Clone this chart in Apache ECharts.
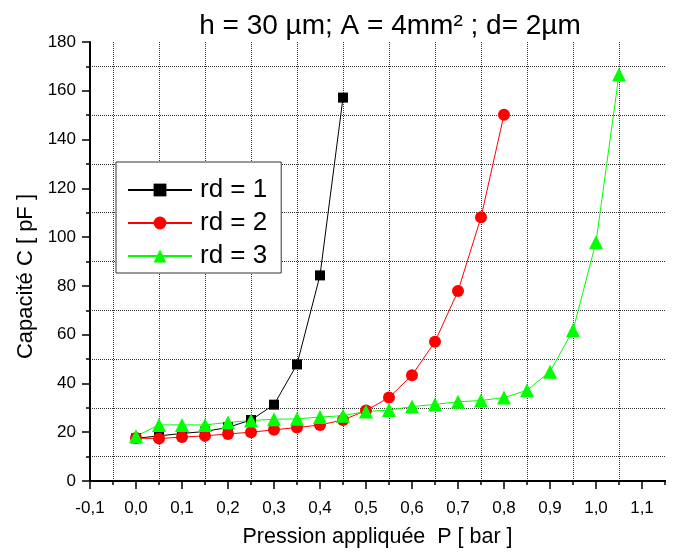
<!DOCTYPE html>
<html>
<head>
<meta charset="utf-8">
<script src="https://cdn.jsdelivr.net/npm/echarts@6/dist/echarts.min.js"></script>
<style>
html,body{margin:0;padding:0;background:#fff;}
#chart{width:679px;height:553px;}
</style>
</head>
<body>
<div id="chart"></div>
<script>
var titleText = 'h = 30 µm; A = 4mm² ; d= 2µm';
var xName = 'Pression appliquée  P [ bar ]';
var yName = 'Capacité C [ pF ]';
var seriesNames = ['rd = 1', 'rd = 2', 'rd = 3'];

var pressure = [0.00, 0.05, 0.10, 0.15, 0.20, 0.25, 0.30, 0.35, 0.40, 0.45, 0.50,
                0.55, 0.60, 0.65, 0.70, 0.75, 0.80, 0.85, 0.90, 0.95, 1.00, 1.05];
var rd1 = [17.5, 18.5, 19.5, 20.3, 22.0, 25.0, 31.3, 47.8, 84.3, 157.2];
var rd2 = [17.6, 17.4, 18.0, 18.5, 19.3, 20.0, 21.0, 21.9, 23.0, 25.0, 28.9,
           34.2, 43.4, 57.1, 77.9, 108.1, 150.2];
var rd3 = [18.3, 23.0, 23.0, 23.0, 24.0, 24.8, 25.3, 25.5, 26.2, 26.8, 28.5,
           29.1, 30.5, 31.4, 32.5, 33.0, 34.2, 37.2, 44.8, 61.8, 97.9, 166.7];

var xMajorTicks = [-0.1, 0.0, 0.1, 0.2, 0.3, 0.4, 0.5, 0.6, 0.7, 0.8, 0.9, 1.0, 1.1];

function pairs(ys) {
  return ys.map(function (y, i) { return [pressure[i], y]; });
}

var FONT = '"Liberation Sans", Arial, sans-serif';
var chart = echarts.init(document.getElementById('chart'));
chart.setOption({
  animation: false,
  backgroundColor: '#ffffff',
  title: {
    text: titleText,
    left: 385, textAlign: 'center', top: 7,
    textStyle: { fontFamily: FONT, fontSize: 28, fontWeight: 'normal', color: '#000' }
  },
  legend: {
    orient: 'vertical',
    left: 116, top: 162,
    padding: [15, 14, 4, 11],
    itemGap: 7,
    itemWidth: 64, itemHeight: 16,
    backgroundColor: '#fff',
    borderColor: '#333', borderWidth: 1,
    textStyle: { fontFamily: FONT, fontSize: 26, color: '#000', padding: [0, 0, 0, 3] },
    data: seriesNames
  },
  grid: { left: 90, right: 14, top: 42, bottom: 70, containLabel: false },
  xAxis: [{
    type: 'value', min: -0.1, max: 1.15, interval: 0.05, position: 'bottom',
    axisLine: { show: true, onZero: false, lineStyle: { color: '#000', width: 2 } },
    axisTick: { show: true, length: 4, lineStyle: { color: '#000', width: 1.5 } },
    axisLabel: { show: false },
    splitLine: { show: true, showMaxLine: false,
      lineStyle: { type: 'dotted', width: 1, color: ['rgba(0,0,0,0)', '#333'] } }
  }, {
    type: 'value', min: -0.1, max: 1.15, interval: 0.1, position: 'bottom',
    axisLine: { show: true, onZero: false, lineStyle: { color: '#000', width: 2 } },
    axisTick: { show: true, length: 8, customValues: xMajorTicks, lineStyle: { color: '#000', width: 1.5 } },
    axisLabel: { show: true, customValues: xMajorTicks, margin: 19, fontFamily: FONT, fontSize: 17, color: '#000',
      formatter: function (v) { return v.toFixed(1).replace('.', ','); } },
    splitLine: { show: false },
    name: xName, nameLocation: 'middle', nameGap: 45,
    nameTextStyle: { fontFamily: FONT, fontSize: 21.5, color: '#000' }
  }],
  yAxis: {
    type: 'value', min: 0, max: 180, interval: 20,
    axisLine: { show: true, onZero: false, lineStyle: { color: '#000', width: 2 } },
    axisTick: { show: true, length: 8, lineStyle: { color: '#000', width: 1.5 } },
    minorTick: { show: true, splitNumber: 2, length: 4, lineStyle: { color: '#000', width: 1.5 } },
    axisLabel: { margin: 14, fontFamily: FONT, fontSize: 17, color: '#000' },
    splitLine: { show: false },
    minorSplitLine: { show: true, lineStyle: { type: 'dotted', width: 1, color: '#333' } },
    name: yName, nameLocation: 'middle', nameGap: 50, nameRotate: 90,
    nameTextStyle: { fontFamily: FONT, fontSize: 22, color: '#000', padding: [0, 30, 0, 0] }
  },
  series: [{
    name: seriesNames[0], type: 'line', xAxisIndex: 0,
    data: pairs(rd1), symbol: 'rect', symbolSize: 10,
    itemStyle: { color: '#000000' }, lineStyle: { color: '#000000', width: 1 }
  }, {
    name: seriesNames[1], type: 'line', xAxisIndex: 0,
    data: pairs(rd2), symbol: 'circle', symbolSize: 12,
    itemStyle: { color: '#ff0000' }, lineStyle: { color: '#ff0000', width: 1 }
  }, {
    name: seriesNames[2], type: 'line', xAxisIndex: 0,
    data: pairs(rd3), symbol: 'triangle', symbolSize: 14,
    itemStyle: { color: '#00ff00' }, lineStyle: { color: '#00ff00', width: 1 }
  }]
});
</script>
</body>
</html>
